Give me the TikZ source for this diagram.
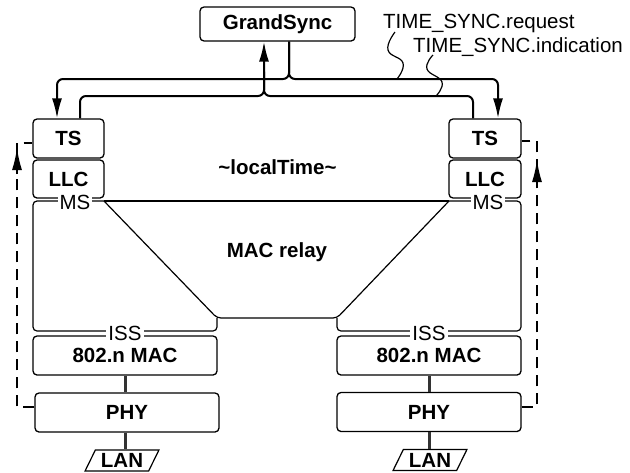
\documentclass[tikz,border=0pt]{standalone}
\usepackage{fontspec}
\setmainfont{Liberation Sans}
\usetikzlibrary{arrows.meta,shapes.geometric}
\newcommand\dgsize{\fontsize{20.5}{24}\selectfont}
\begin{document}
\begin{tikzpicture}[x=1pt,y=-1pt,
  box/.style={draw,rounded corners=4pt,line width=1.3pt,font=\dgsize\bfseries,inner sep=0pt,minimum height=39pt},
  lbl/.style={font=\dgsize,inner sep=0pt},
  blbl/.style={font=\dgsize\bfseries,inner sep=0pt},
  edgelbl/.style={font=\dgsize,fill=white,inner xsep=2pt,inner ysep=0pt},
  sig/.style={line width=2pt,rounded corners=6pt},
  sigarr/.style={sig,-{Latex[length=20pt,width=10pt]}},
  region/.style={line width=1.2pt,rounded corners=4pt},
  gconn/.style={line width=3pt,draw=black!80},
  dsh/.style={line width=1.6pt,dash pattern=on 11pt off 7pt},
  dsharr/.style={line width=1.6pt,-{Latex[length=22pt,width=10pt]}},
  wig/.style={line width=1.2pt},
  lan/.style={draw,trapezium,trapezium left angle=60,trapezium right angle=120,trapezium stretches=true,line width=1.2pt,minimum width=74pt,minimum height=21pt,inner sep=0pt,font=\dgsize\bfseries}]
\useasboundingbox (0,0) rectangle (630,472);

% nodes
\node[box,minimum width=155pt,minimum height=34pt] (gs) at (277.5,24) {GrandSync};
\node[box,minimum width=71pt] (tsL) at (68.5,138.5) {TS};
\node[box,minimum width=71pt,minimum height=38pt] (llcL) at (68.5,179) {LLC};
\node[box,minimum width=72pt] (tsR) at (485,138.5) {TS};
\node[box,minimum width=72pt,minimum height=38pt] (llcR) at (485,179) {LLC};
\node[box,minimum width=184pt] (macL) at (125,355.5) {802.n MAC};
\node[box,minimum width=184pt] (macR) at (429,355.5) {802.n MAC};
\node[box,minimum width=184pt] (phyL) at (127,412.5) {PHY};
\node[box,minimum width=184pt] (phyR) at (429,412) {PHY};
\node[lan] (lanL) at (122,460.5) {LAN};
\node[lan] (lanR) at (430,460) {LAN};

% relay regions
\draw[region] (217,318) -- (217,331) -- (33,331) -- (33,201) -- (104,201);
\draw[region] (337,318) -- (337,331) -- (521,331) -- (521,201) -- (449,201);
\draw[region] (104,201) -- (449,201);
\draw[region] (104,201) -- (217,318) -- (337,318) -- (449,201);

% service labels
\node[edgelbl] (msL) at (75,202) {MS};
\node[edgelbl] (msR) at (488,202) {MS};
\node[edgelbl] (issL) at (125,333.5) {ISS};
\node[edgelbl] (issR) at (429,333.5) {ISS};

% inner texts
\node[blbl] (lt) at (277.5,167) {\textasciitilde localTime\textasciitilde};
\node[blbl] (relay) at (277,252) {MAC relay};
\node[lbl,anchor=base west] (req) at (383,28) {TIME\_SYNC.request};
\node[lbl,anchor=base west] (ind) at (413,52) {TIME\_SYNC.indication};

% signal lines
\coordinate (yU) at (0,79);
\coordinate (yL) at (0,96);
\coordinate (gsOut) at ([xshift=11.5pt]gs.south);
\coordinate (gsIn) at ([xshift=-13.5pt]gs.south);
\coordinate (tsLin) at ([xshift=-11.5pt]tsL.north);
\coordinate (tsLout) at ([xshift=11.5pt]tsL.north);
\coordinate (tsRin) at ([xshift=13pt]tsR.north);
\coordinate (tsRout) at ([xshift=-12pt]tsR.north);
\draw[sigarr] (gsOut) |- (tsLin |- yU) -- (tsLin);
\draw[sigarr] (gsOut) |- (tsRin |- yU) -- (tsRin);
\draw[sigarr] (tsLout) |- (gsIn |- yL) -- (gsIn);
\draw[sig] (tsRout) |- (gsIn |- yL) -- ([yshift=-30pt]gsIn);

% label leaders
\draw[wig] plot[smooth,tension=0.8] coordinates {(395,32) (388,50) (403,63) (397,79)};
\draw[wig] plot[smooth,tension=0.8] coordinates {(433,55) (427,69) (442,82) (436,96)};

% gray links
\draw[gconn] (macL.south) -- (macL.south |- phyL.north);
\draw[gconn] (macL.south |- phyL.south) -- (macL.south |- lanL.north);
\draw[gconn] (macR.south) -- (macR.south |- phyR.north);
\draw[gconn] (macR.south |- phyR.south) -- (macR.south |- lanR.north);

% dashed feedback
\coordinate (xL) at (17,0);
\coordinate (xR) at (537,0);
\coordinate (dL1) at ([yshift=5.5pt]phyL.west);
\coordinate (dL2) at ([yshift=-4.5pt]tsL.west);
\coordinate (dR1) at ([yshift=-2.5pt]tsR.east);
\coordinate (dR2) at ([yshift=5pt]phyR.east);
\draw[dsh] (dL1) -| (xL |- dL2) -- (dL2);
\draw[dsh] (dR2) -| (xR |- dR1) -- (dR1);
\draw[dsharr] (17,174) -- (17,148);
\draw[dsharr] (537,186) -- (537,160);
\end{tikzpicture}
\end{document}
